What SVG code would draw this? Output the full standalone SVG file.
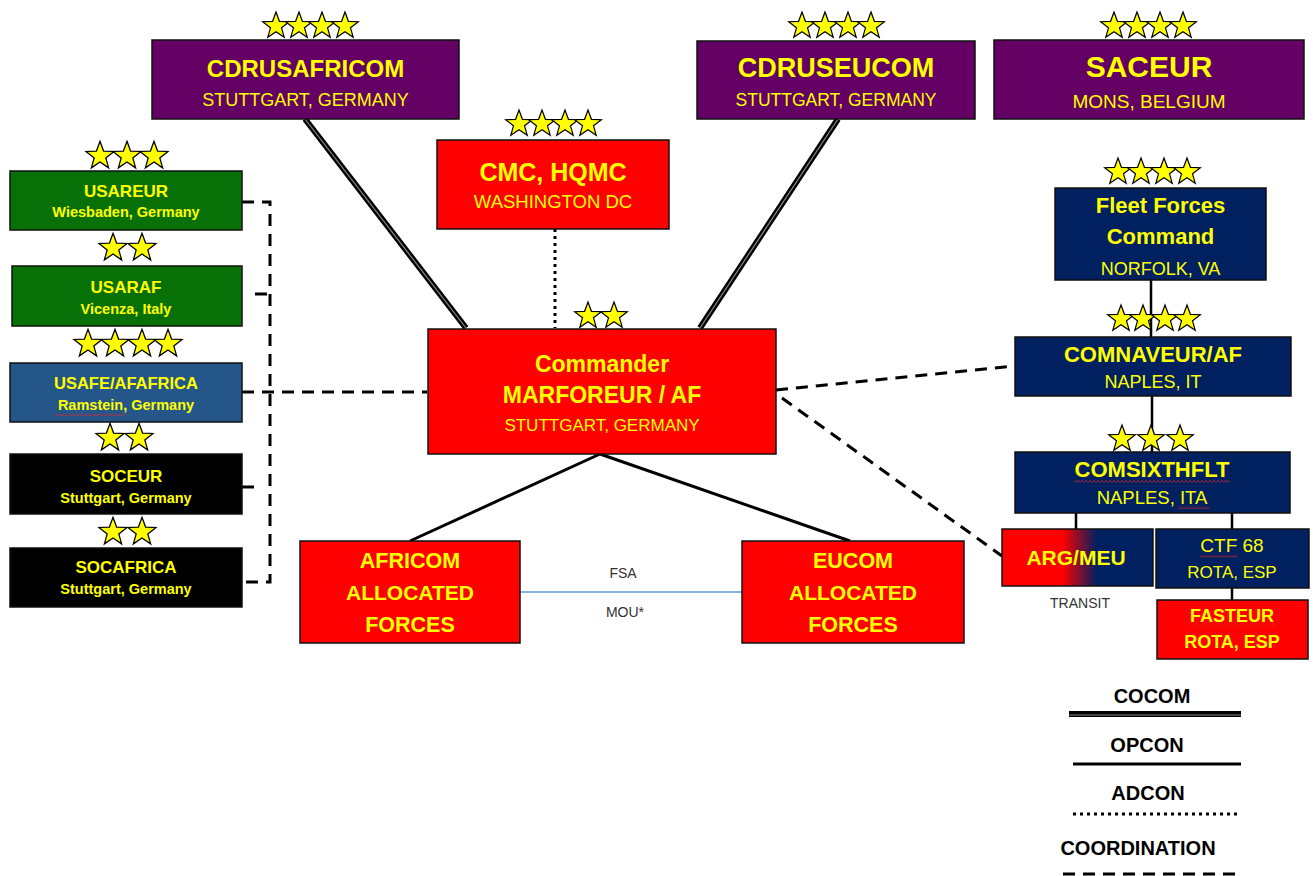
<svg xmlns="http://www.w3.org/2000/svg" xmlns:xlink="http://www.w3.org/1999/xlink" width="1313" height="876" viewBox="0 0 1313 876">
<style>
.t{font-family:"Liberation Sans",Arial,sans-serif;fill:#ffff00;text-anchor:middle}
.b{font-weight:bold}
.k{font-family:"Liberation Sans",Arial,sans-serif;fill:#000;text-anchor:middle;font-weight:bold;font-size:20px}
.g{font-family:"Liberation Sans",Arial,sans-serif;fill:#333;text-anchor:middle;font-size:14px}
.box{stroke:#111;stroke-width:1.5}
.pur{fill:#640064}.red{fill:#ff0000}.navy{fill:#002060}.grn{fill:#077007}.blu{fill:#25568a}.blk{fill:#000}
.st{fill:#ffff00;stroke:#000;stroke-width:1.2}
.cocom{stroke:#000;stroke-width:6;fill:none}
.cocomin{stroke:#8a8a8a;stroke-width:1.2;fill:none}
.op{stroke:#000;stroke-width:3;fill:none}
.ad{stroke:#000;stroke-width:3;stroke-dasharray:3 4;fill:none}
.co{stroke:#000;stroke-width:3;stroke-dasharray:12 8;fill:none}
</style>
<defs>
<path id="star" class="st" d="M0,-14 L3.41,-4.69 L13.32,-4.33 L5.52,1.79 L8.23,11.33 L0,5.8 L-8.23,11.33 L-5.52,1.79 L-13.32,-4.33 L-3.41,-4.69 Z"/>
<linearGradient id="argGrad" x1="0" y1="0" x2="1" y2="0">
<stop offset="0" stop-color="#ff0000"/><stop offset="0.4" stop-color="#ff0000"/><stop offset="0.63" stop-color="#002060"/><stop offset="1" stop-color="#002060"/>
</linearGradient>
<pattern id="sq" width="4" height="3" patternUnits="userSpaceOnUse">
<polyline points="0,2.5 2,0.5 4,2.5" fill="none" stroke="#e02828" stroke-width="0.9"/>
</pattern>
</defs>
<rect width="1313" height="876" fill="#fff"/>

<g id="connectors">
<path class="cocom" d="M305,119 L466,328"/>
<path class="cocomin" d="M305,119 L466,328"/>
<path class="cocom" d="M838,119 L700,328"/>
<path class="cocomin" d="M838,119 L700,328"/>
<path class="ad" d="M555,229 V328"/>
<path class="op" d="M600,454 L410,541 M600,454 L850,541"/>
<path stroke="#000" stroke-width="2.5" fill="none" d="M1151,280 V337 M1152,396 V452 M1076,513 V529 M1232,513 V529 M1232,588 V600"/>
<path stroke="#5b9bd5" stroke-width="1.5" d="M520,592 H742"/>
<path class="co" d="M242,202 H270 V582 H242"/>
<path class="co" d="M255,294 H270 M242,487 H262"/>
<path class="co" d="M242,392 H427"/>
<path class="co" d="M776,390 L1015,366"/>
<path class="co" d="M782,398 L1002,556"/>
</g>

<g id="cdrusafricom">
<rect class="box pur" x="152" y="40" width="307" height="79"/>
<use href="#star" x="276" y="26"/><use href="#star" x="299" y="26"/><use href="#star" x="322" y="26"/><use href="#star" x="345" y="26"/>
<text class="t b" x="305.5" y="77" font-size="24">CDRUSAFRICOM</text>
<text class="t" x="305.5" y="106" font-size="18">STUTTGART, GERMANY</text>
</g>

<g id="cdruseucom">
<rect class="box pur" x="697" y="41" width="278" height="78"/>
<use href="#star" x="802" y="26"/><use href="#star" x="825" y="26"/><use href="#star" x="848" y="26"/><use href="#star" x="871" y="26"/>
<text class="t b" x="836" y="77" font-size="27">CDRUSEUCOM</text>
<text class="t" x="836" y="106" font-size="17.5">STUTTGART, GERMANY</text>
</g>

<g id="saceur">
<rect class="box pur" x="994" y="40" width="310" height="79"/>
<use href="#star" x="1114" y="26"/><use href="#star" x="1137" y="26"/><use href="#star" x="1160" y="26"/><use href="#star" x="1183" y="26"/>
<text class="t b" x="1149" y="77" font-size="30">SACEUR</text>
<text class="t" x="1149" y="108" font-size="19">MONS, BELGIUM</text>
</g>

<g id="cmc">
<rect class="box red" x="437" y="140" width="232" height="89"/>
<use href="#star" x="519" y="124"/><use href="#star" x="542" y="124"/><use href="#star" x="565" y="124"/><use href="#star" x="588" y="124"/>
<text class="t b" x="553" y="181" font-size="25">CMC, HQMC</text>
<text class="t" x="553" y="208" font-size="18.5">WASHINGTON DC</text>
</g>

<g id="fleetforces">
<rect class="box navy" x="1055" y="188" width="211" height="92"/>
<use href="#star" x="1118" y="172"/><use href="#star" x="1141" y="172"/><use href="#star" x="1164" y="172"/><use href="#star" x="1187" y="172"/>
<text class="t b" x="1160.5" y="213" font-size="22">Fleet Forces</text>
<text class="t b" x="1160.5" y="244" font-size="22">Command</text>
<text class="t" x="1160.5" y="275" font-size="18">NORFOLK, VA</text>
</g>

<g id="comnaveur">
<rect class="box navy" x="1015" y="337" width="276" height="59"/>
<use href="#star" x="1121" y="319"/><use href="#star" x="1143" y="319"/><use href="#star" x="1165" y="319"/><use href="#star" x="1187" y="319"/>
<text class="t b" x="1153" y="362" font-size="22">COMNAVEUR/AF</text>
<text class="t" x="1153" y="388" font-size="18">NAPLES, IT</text>
</g>

<g id="comsixthflt">
<rect class="box navy" x="1015" y="452" width="275" height="61"/>
<use href="#star" x="1122" y="439"/><use href="#star" x="1151" y="439"/><use href="#star" x="1180" y="439"/>
<text class="t b" x="1152" y="477" font-size="22">COMSIXTHFLT</text>
<text class="t" x="1152" y="504" font-size="18.5">NAPLES, ITA</text>
<rect x="1074" y="480" width="156" height="3" fill="url(#sq)"/>
<rect x="1178" y="506" width="32" height="3" fill="url(#sq)"/>
</g>

<g id="argmeu">
<rect class="box" fill="url(#argGrad)" x="1002" y="529" width="151" height="57"/>
<text class="t b" x="1076" y="565" font-size="21">ARG/MEU</text>
<text class="g" x="1080" y="608">TRANSIT</text>
</g>

<g id="ctf68">
<rect class="box navy" x="1156" y="529" width="153" height="59"/>
<text class="t" x="1232" y="552" font-size="19">CTF 68</text>
<text class="t" x="1232" y="578" font-size="17">ROTA, ESP</text>
<rect x="1200" y="555" width="38" height="3" fill="url(#sq)"/>
</g>

<g id="fasteur">
<rect class="box red" x="1157" y="600" width="151" height="59"/>
<text class="t b" x="1232" y="622" font-size="18">FASTEUR</text>
<text class="t b" x="1232" y="648" font-size="18">ROTA, ESP</text>
<rect x="1190" y="625" width="86" height="3" fill="url(#sq)"/>
</g>

<g id="commander">
<rect class="box red" x="428" y="329" width="348" height="125"/>
<use href="#star" x="588" y="316"/><use href="#star" x="614" y="316"/>
<text class="t b" x="602" y="372" font-size="23">Commander</text>
<text class="t b" x="602" y="403" font-size="23">MARFOREUR / AF</text>
<text class="t" x="602" y="431" font-size="17">STUTTGART, GERMANY</text>
</g>

<g id="africom-forces">
<rect class="box red" x="300" y="541" width="220" height="102"/>
<text class="t b" x="410" y="568" font-size="21.5">AFRICOM</text>
<text class="t b" x="410" y="600" font-size="21">ALLOCATED</text>
<text class="t b" x="410" y="632" font-size="21.5">FORCES</text>
</g>

<g id="eucom-forces">
<rect class="box red" x="742" y="541" width="222" height="102"/>
<text class="t b" x="853" y="568" font-size="21.5">EUCOM</text>
<text class="t b" x="853" y="600" font-size="21">ALLOCATED</text>
<text class="t b" x="853" y="632" font-size="21.5">FORCES</text>
</g>

<g id="fsa-mou">
<text class="g" x="623" y="578">FSA</text>
<text class="g" x="625" y="617">MOU*</text>
</g>

<g id="usareur">
<rect class="box grn" x="10" y="171" width="232" height="59"/>
<use href="#star" transform="translate(100,156) scale(1.05)"/><use href="#star" transform="translate(127,156) scale(1.05)"/><use href="#star" transform="translate(154,156) scale(1.05)"/>
<text class="t b" x="126" y="197" font-size="17">USAREUR</text>
<text class="t b" x="126" y="217" font-size="14.5">Wiesbaden, Germany</text>
</g>

<g id="usaraf">
<rect class="box grn" x="12" y="266" width="230" height="60"/>
<use href="#star" transform="translate(113,248) scale(1.05)"/><use href="#star" transform="translate(142,248) scale(1.05)"/>
<text class="t b" x="126" y="293" font-size="17">USARAF</text>
<text class="t b" x="126" y="314" font-size="14.5">Vicenza, Italy</text>
</g>

<g id="usafe">
<rect class="box blu" x="10" y="363" width="232" height="59"/>
<use href="#star" transform="translate(88,344) scale(1.05)"/><use href="#star" transform="translate(115,344) scale(1.05)"/><use href="#star" transform="translate(142,344) scale(1.05)"/><use href="#star" transform="translate(168,344) scale(1.05)"/>
<text class="t b" x="126" y="389" font-size="16.5">USAFE/AFAFRICA</text>
<text class="t b" x="126" y="410" font-size="14.5">Ramstein, Germany</text>
<rect x="55" y="413" width="70" height="3" fill="url(#sq)"/>
</g>

<g id="soceur">
<rect class="box blk" x="10" y="454" width="232" height="60"/>
<use href="#star" transform="translate(110,438) scale(1.05)"/><use href="#star" transform="translate(139,438) scale(1.05)"/>
<text class="t b" x="126" y="482" font-size="17">SOCEUR</text>
<text class="t b" x="126" y="503" font-size="14.5">Stuttgart, Germany</text>
</g>

<g id="socafrica">
<rect class="box blk" x="10" y="548" width="232" height="59"/>
<use href="#star" transform="translate(113,532) scale(1.05)"/><use href="#star" transform="translate(142,532) scale(1.05)"/>
<text class="t b" x="126" y="573" font-size="17">SOCAFRICA</text>
<text class="t b" x="126" y="594" font-size="14.5">Stuttgart, Germany</text>
</g>

<g id="legend">
<text class="k" x="1152" y="703">COCOM</text>
<path class="cocom" d="M1069,714 H1241" stroke-width="5"/>
<path class="cocomin" d="M1069,715 H1241"/>
<text class="k" x="1147" y="752">OPCON</text>
<path class="op" d="M1073,764 H1241"/>
<text class="k" x="1148" y="800">ADCON</text>
<path class="ad" d="M1073,814 H1241" stroke-dasharray="3 3"/>
<text class="k" x="1138" y="855">COORDINATION</text>
<path class="co" d="M1063,874 H1241" stroke-dasharray="14 9"/>
</g>
</svg>
